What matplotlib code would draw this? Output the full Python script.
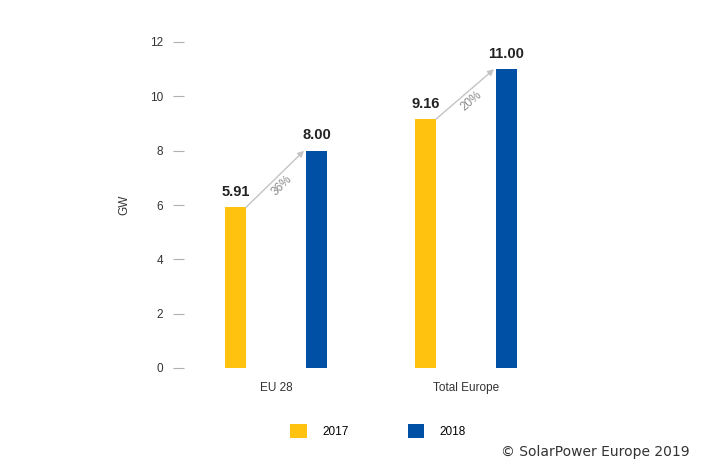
import numpy as np
import matplotlib
matplotlib.use("Agg")
import matplotlib.pyplot as plt
from matplotlib.patches import Patch

# data
categories = ["EU 28", "Total Europe"]
years = ["2017", "2018"]
values_2017 = [5.91, 9.16]
values_2018 = [8.00, 11.00]
growth_labels = ["36%", "20%"]
yticks = [0, 2, 4, 6, 8, 10, 12]

col_2017 = "#FFC20E"
col_2018 = "#0051A5"

plt.rcParams["font.family"] = ["Liberation Sans", "DejaVu Sans"]

fig = plt.figure(figsize=(7.17, 4.72), dpi=100)
ax = fig.add_axes([184 / 717, 1 - 368 / 472, 376 / 717, 326 / 472])

x = np.arange(len(categories))
off = 0.213
w = 0.11

ax.bar(x - off, values_2017, width=w, color=col_2017)
ax.bar(x + off, values_2018, width=w, color=col_2018)

ax.set_xlim(-0.484, 1.495)
ax.set_ylim(0, 12)

# value labels
for xi, v in zip(x - off, values_2017):
    ax.annotate(f"{v:.2f}", (xi, v), xytext=(0, 6), textcoords="offset points",
                ha="center", va="bottom", fontsize=10.5, fontweight="bold", color="#222222")
for xi, v in zip(x + off, values_2018):
    ax.annotate(f"{v:.2f}", (xi, v), xytext=(0, 6), textcoords="offset points",
                ha="center", va="bottom", fontsize=10.5, fontweight="bold", color="#222222")

# growth arrows
fig.canvas.draw()
for i in range(len(categories)):
    x0, y0 = x[i] - off + w / 2, values_2017[i]
    x1, y1 = x[i] + off - w / 2 - 0.01, values_2018[i]
    ax.annotate("", xy=(x1, y1), xytext=(x0, y0),
                arrowprops=dict(arrowstyle="-|>", color="#c4c4c4", lw=1.0,
                                shrinkA=0, shrinkB=0, mutation_scale=9))
    p0 = ax.transData.transform((x0, y0))
    p1 = ax.transData.transform((x1, y1))
    ang = np.degrees(np.arctan2(p1[1] - p0[1], p1[0] - p0[0]))
    xm, ym = (x0 + x1) / 2, (y0 + y1) / 2
    ax.annotate(growth_labels[i], (xm, ym), xytext=(2, -2), textcoords="offset points",
                rotation=ang, rotation_mode="anchor", ha="center", va="top",
                fontsize=8.5, color="#8a8a8a")

for s in ax.spines.values():
    s.set_visible(False)

ax.set_yticks(yticks)
ax.tick_params(axis="y", length=8, width=0.8, color="#b0b0b0", pad=7,
               labelsize=8.5, labelcolor="#333333")
ax.set_xticks(x)
ax.set_xticklabels(categories)
ax.tick_params(axis="x", length=0, pad=10, labelsize=8.5, labelcolor="#333333")

ax.set_ylabel("GW", fontsize=8.5, color="#333333", labelpad=14)

handles = [Patch(facecolor=col_2017), Patch(facecolor=col_2018)]
fig.legend(handles, years, loc="center", bbox_to_anchor=(378 / 717, 1 - 431 / 472),
           ncol=2, frameon=False, fontsize=8.5, handlelength=1.4, handleheight=1.4,
           columnspacing=5.0, handletextpad=1.3)

fig.text(690 / 717, 1 - 452 / 472, "\u00a9 SolarPower Europe 2019", ha="right", va="center",
         fontsize=10, color="#333333", family="DejaVu Sans")

fig.savefig("out.png", dpi=100, facecolor="white")
